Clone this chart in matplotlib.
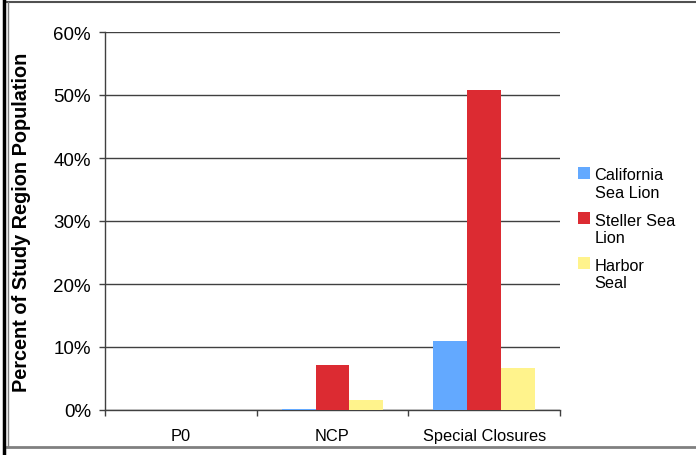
import matplotlib
matplotlib.use("Agg")
import matplotlib.pyplot as plt
from matplotlib.lines import Line2D
from matplotlib.patches import Rectangle
from matplotlib.container import BarContainer
from matplotlib.legend_handler import HandlerPatch
import numpy as np

plt.rcParams['font.family'] = ['Liberation Sans', 'DejaVu Sans']

categories = ["P0", "NCP", "Special Closures"]
series_names = ["California\nSea Lion", "Steller Sea\nLion", "Harbor\nSeal"]
california = [0.0, 0.2, 10.9]
steller = [0.0, 7.1, 50.8]
harbor = [0.0, 1.6, 6.7]
yticks = [0, 10, 20, 30, 40, 50, 60]
ytick_labels = ["0%", "10%", "20%", "30%", "40%", "50%", "60%"]
colors = ["#63A9FF", "#DC2B32", "#FFF38C"]

W, H = 696, 456
fig = plt.figure(figsize=(W / 100, H / 100), dpi=100)
ax = fig.add_axes([105 / W, 1 - 411 / H, (560 - 105) / W, (411 - 33) / H])

x = np.arange(len(categories))
w = 0.223
for i, (vals, name, c) in enumerate(zip([california, steller, harbor], series_names, colors)):
    ax.bar(x + (i - 1) * w, vals, width=w, color=c, label=name, zorder=3)

ax.set_xlim(-0.5, 2.5)
ax.set_ylim(0, 60)
ax.set_yticks(yticks)
ax.set_yticklabels(ytick_labels, fontsize=13.5)
ax.yaxis.grid(True, color="#404040", linewidth=1.0, zorder=0)
ax.set_axisbelow(True)

ax.set_xticks([-0.5, 0.5, 1.5, 2.5])
ax.set_xticklabels([])
ax.set_xticks(x, minor=True)
ax.set_xticklabels(categories, minor=True, fontsize=11.8)
ax.tick_params(axis='x', which='major', direction='out', length=4.5, width=1, color="#404040")
ax.tick_params(axis='x', which='minor', length=0, pad=13)
ax.tick_params(axis='y', direction='out', length=4.5, width=1, color="#404040", pad=5.5)

for s in ["top", "right"]:
    ax.spines[s].set_visible(False)
for s in ["left", "bottom"]:
    ax.spines[s].set_color("#404040")
    ax.spines[s].set_linewidth(1.0)

fig.text(22 / W, 1 - 222 / H, "Percent of Study Region Population", rotation=90,
         ha="center", va="center", fontsize=14.3, fontweight="bold")


def top_square(legend, orig_handle, xdescent, ydescent, width, height, fontsize):
    s = 0.75 * fontsize
    return Rectangle((-xdescent, -ydescent + height - s + 0.3 * fontsize), s, s)


def first_child(legend_handle, orig_handle):
    legend_handle.update_from(orig_handle.patches[0])


leg = ax.legend(loc="upper left", bbox_to_anchor=(571 / W, 1 - 162 / H),
                bbox_transform=fig.transFigure, frameon=False, fontsize=11.7,
                handlelength=0.75, handleheight=2.1, handletextpad=0.3,
                labelspacing=0.78, borderaxespad=0,
                handler_map={BarContainer: HandlerPatch(patch_func=top_square,
                                                        update_func=first_child)})

# outer frame
fig.add_artist(Line2D([7 / W, 1], [1 - 2.5 / H, 1 - 2.5 / H], transform=fig.transFigure,
                      color="#505050", linewidth=1.5))
fig.add_artist(Line2D([7 / W, 1], [1 - 447.5 / H, 1 - 447.5 / H], transform=fig.transFigure,
                      color="#808080", linewidth=2))
fig.add_artist(Line2D([7.5 / W, 7.5 / W], [1 - 448 / H, 1 - 2.5 / H], transform=fig.transFigure,
                      color="#808080", linewidth=1))
fig.add_artist(Line2D([3.5 / W, 3.5 / W], [0, 1], transform=fig.transFigure,
                      color="#000000", linewidth=2.5))

fig.savefig("out.png", dpi=100)
